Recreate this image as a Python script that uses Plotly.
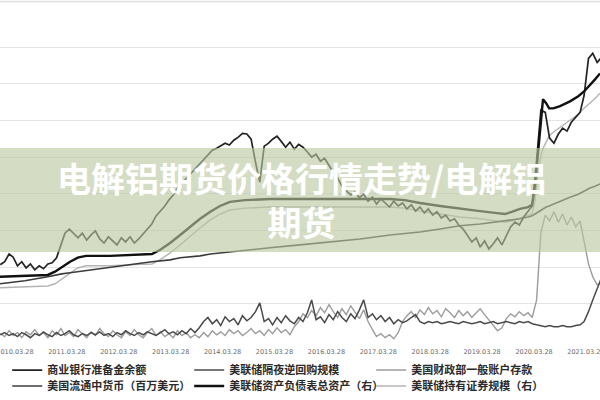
import pandas as pd
import plotly.graph_objects as go

# ---------------- data (in chart grid units 0-90) -------------
months = pd.date_range("2009-12-01", periods=140, freq="MS") + pd.Timedelta(days=14)

reserves = [20.7, 21.5, 23.6, 22.8, 20.4, 21.5, 19.8, 20.9, 19.3, 20.4, 19.6, 20.9, 21.2, 22.6, 26.1, 29.3,
            30.4, 29.1, 28.0, 29.3, 27.4, 28.8, 29.9, 27.7, 26.6, 28.3, 27.2, 26.1, 28.0, 26.9, 28.3, 26.6,
            27.7, 29.1, 30.2, 31.8, 34.0, 35.3, 36.7, 38.3, 39.7, 41.6, 42.9, 44.3, 45.7, 47.0, 48.1, 49.5,
            50.8, 51.9, 52.4, 53.0, 53.8, 53.3, 54.6, 55.4, 56.5, 56.3, 54.9, 48.6, 43.2, 53.0, 53.8, 54.9,
            55.7, 54.3, 52.7, 54.1, 52.2, 53.5, 52.7, 51.4, 50.0, 50.8, 48.9, 49.7, 47.6, 45.9, 44.3, 42.1,
            40.8, 39.7, 40.5, 38.9, 39.9, 38.0, 39.1, 37.2, 38.6, 37.5, 36.4, 38.0, 36.7, 37.5, 35.9, 37.0,
            35.3, 36.4, 34.8, 35.9, 34.2, 35.1, 33.4, 34.2, 32.6, 33.2, 31.5, 30.4, 28.5, 26.9, 28.0, 25.5,
            27.2, 25.0, 26.4, 28.0, 26.1, 28.8, 31.0, 32.3, 31.5, 33.7, 35.3, 36.7, 49.2, 62.8, 62.2, 55.2,
            53.8, 56.3, 57.9, 57.1, 59.5, 60.9, 62.2, 66.8, 76.9, 78.3, 75.8, 77.2]

rrp = [1.6, 2.2, 1.4, 1.9, 1.1, 2.2, 1.6, 0.8, 1.9, 1.4, 2.4, 1.6, 1.1, 2.2, 1.4, 1.9,
       2.7, 1.6, 1.1, 1.9, 1.4, 2.2, 1.6, 2.4, 1.4, 1.9, 1.1, 2.2, 1.6, 2.7, 1.9, 1.4,
       2.2, 1.6, 2.4, 1.9, 1.4, 2.2, 3.0, 1.9, 2.4, 1.6, 2.7, 1.9, 3.3, 2.2, 3.5, 5.2,
       6.3, 4.6, 5.7, 4.1, 6.5, 5.2, 6.0, 4.3, 6.8, 5.4, 6.3, 7.9, 10.3, 5.2, 6.0, 4.3,
       6.3, 4.9, 6.8, 5.4, 4.6, 6.3, 5.2, 7.6, 11.1, 5.7, 6.5, 4.9, 7.1, 5.7, 7.9, 6.3,
       5.2, 7.3, 6.0, 8.4, 11.1, 6.3, 7.3, 5.7, 6.8, 5.2, 6.3, 4.6, 5.7, 4.9, 5.4, 6.3,
       7.1, 5.2, 4.6, 5.2, 4.9, 5.2, 4.6, 4.9, 5.2, 4.9, 4.6, 5.2, 4.9, 4.6, 4.9, 5.2,
       4.6, 4.9, 5.2, 4.6, 4.9, 5.2, 4.9, 4.6, 5.2, 4.9, 5.2, 4.6, 4.3, 4.1, 3.8, 4.1,
       3.8, 3.8, 4.1, 3.8, 3.8, 4.1, 4.3, 5.2, 7.9, 11.1, 14.4, 17.1]

tga = [1.9, 1.1, 2.7, 1.4, 2.2, 0.8, 2.4, 1.6, 3.0, 1.4, 2.2, 0.8, 2.7, 1.6, 3.3, 1.4,
       2.2, 1.1, 3.0, 1.9, 0.8, 2.4, 1.4, 3.3, 1.9, 1.1, 2.7, 1.6, 0.8, 2.4, 1.4, 3.0,
       1.6, 0.8, 2.2, 3.3, 1.4, 2.4, 1.1, 1.9, 0.8, 2.7, 1.4, 2.2, 0.8, 1.6, 0.8, 2.2,
       1.1, 2.7, 1.6, 2.4, 1.4, 3.0, 1.9, 2.7, 1.4, 2.2, 3.3, 1.9, 2.7, 1.4, 3.0, 1.9,
       3.5, 2.2, 3.0, 1.6, 3.8, 5.2, 7.3, 6.3, 8.2, 6.8, 9.0, 7.6, 9.8, 7.9, 6.3, 8.7,
       7.1, 9.5, 7.6, 6.0, 8.4, 5.2, 3.0, 1.1, 1.9, 0.8, 1.6, 0.5, 2.2, 5.2, 6.8, 7.9,
       6.3, 8.4, 7.1, 9.0, 7.3, 8.2, 6.5, 8.7, 7.6, 6.3, 8.2, 6.8, 7.9, 6.3, 7.6, 8.7,
       7.1, 5.7, 4.1, 2.7, 3.5, 6.0, 7.3, 6.5, 7.9, 6.8, 7.6, 6.3, 11.1, 29.6, 34.2, 32.6,
       35.1, 32.3, 34.5, 31.5, 33.7, 31.0, 32.6, 26.6, 20.9, 17.4, 15.2, 15.8]

smooth_dates = ["2009-12-13", "2010-06-06", "2010-11-14", "2011-01-04", "2011-02-20", "2011-04-20",
                "2011-06-13", "2011-08-10", "2012-01-26", "2012-07-19", "2012-11-16", "2013-01-11",
                "2013-03-24", "2013-06-03", "2013-08-12", "2013-10-21", "2014-01-01", "2014-03-10",
                "2014-05-19", "2014-09-02", "2015-02-25", "2015-09-23", "2016-04-21", "2016-11-20",
                "2017-06-18", "2017-10-01", "2018-01-15", "2018-06-06", "2018-10-24", "2019-03-14",
                "2019-06-27", "2019-09-05", "2019-10-23", "2019-12-20", "2020-02-14", "2020-03-14",
                "2020-04-04", "2020-04-26", "2020-05-16", "2020-05-30", "2020-06-21", "2020-07-12",
                "2020-08-10", "2020-09-27", "2020-12-06", "2021-02-02", "2021-03-15", "2021-04-26",
                "2021-05-31", "2021-07-05"]

total_assets = [17.4, 17.7, 17.9, 18.8, 20.1, 21.5, 22.6, 23.1, 23.1, 23.4, 23.6, 24.7, 26.6, 28.8, 31.0,
                33.2, 35.1, 36.7, 37.8, 38.3, 38.6, 38.6, 38.6, 38.6, 38.6, 38.3, 37.5, 36.7, 35.9, 35.3,
                34.8, 34.5, 35.1, 35.9, 36.4, 37.0, 42.4, 51.9, 61.4, 65.8, 64.7, 63.3, 63.3, 63.9, 65.2,
                66.6, 67.9, 69.6, 71.2, 72.8]

securities = [14.4, 14.7, 14.9, 15.5, 16.8, 18.5, 19.8, 20.4, 20.4, 20.7, 20.9, 22.0, 23.9, 26.1, 28.5,
              30.7, 32.9, 34.5, 35.6, 36.1, 36.4, 36.4, 36.4, 36.4, 36.4, 36.1, 35.3, 34.5, 33.7, 33.2,
              32.6, 32.3, 32.6, 33.4, 34.0, 34.5, 38.3, 45.9, 50.5, 52.4, 54.1, 55.7, 56.8, 58.2, 60.1,
              61.7, 63.3, 64.7, 66.0, 67.4]

currency = [15.5, 16.3, 17.4, 17.9, 18.2, 18.5, 18.8, 19.0, 20.1, 20.9, 21.5, 21.7, 22.0, 22.6, 22.8,
            23.1, 23.6, 23.9, 24.2, 24.7, 25.3, 26.1, 26.9, 27.7, 28.8, 29.1, 29.6, 30.4, 31.3, 31.8,
            32.3, 32.6, 32.9, 33.2, 33.7, 34.0, 34.5, 35.1, 35.6, 35.9, 36.4, 36.7, 37.2, 38.0, 39.1,
            39.9, 40.8, 41.6, 42.1, 42.7]

tick_dates = [f"{y}-03-28" for y in range(2010, 2022)]
tick_labels = [f"{y}.03.28" for y in range(2010, 2022)]

names = ["商业银行准备金余额", "美联储隔夜逆回购规模", "美国财政部一般账户存款",
         "美国流通中货币（百万美元）", "美联储资产负债表总资产（右）", "美联储持有证券规模（右）"]

banner_text = "电解铝期货价格行情走势/电解铝<br>期货"

# ---------------- figure ----------------
fig = go.Figure()

def add(x, y, name, color, width, legend, rank):
    fig.add_trace(go.Scatter(x=x, y=y, name=name, mode="lines",
                             line=dict(color=color, width=width),
                             legend=legend, legendrank=rank, hoverinfo="skip"))

add(months, tga, names[2], "#9c9c9c", 1.4, "legend", 3)
add(smooth_dates, securities, names[5], "#b4b4b4", 1.4, "legend2", 6)
add(months, rrp, names[1], "#4a4a4a", 1.5, "legend", 2)
add(smooth_dates, currency, names[3], "#3c3c3c", 1.6, "legend2", 4)
add(months, reserves, names[0], "#232323", 1.7, "legend", 1)
add(smooth_dates, total_assets, names[4], "#111111", 2.4, "legend2", 5)

legend_font = dict(family="Noto Sans CJK SC", size=11, color="#2a2a2a", weight="bold")
fig.update_layout(
    width=600, height=400,
    margin=dict(l=0, r=0, t=10, b=59, autoexpand=False),
    paper_bgcolor="white", plot_bgcolor="white",
    xaxis=dict(range=["2009-12-13", "2021-07-05"], tickvals=tick_dates, ticktext=tick_labels,
               tickfont=dict(family="DejaVu Sans", size=6.5, color="#6a6a6a"),
               ticklabeloverflow="allow",
               showgrid=False, zeroline=False, showline=False, automargin=False,
               ticks="outside", ticklen=4, tickcolor="rgba(0,0,0,0)"),
    yaxis=dict(range=[-0.1, 90.1], dtick=10, tick0=0, showticklabels=False, automargin=False,
               gridcolor="#e4e4e4", gridwidth=1.3, zeroline=False, showline=False),
    legend=dict(orientation="h", x=0.012, xanchor="left", y=-0.044, yanchor="top",
                entrywidth=137, entrywidthmode="pixels", font=legend_font,
                bgcolor="rgba(0,0,0,0)", traceorder="normal"),
    legend2=dict(orientation="h", x=0.012, xanchor="left", y=-0.092, yanchor="top",
                 entrywidth=137, entrywidthmode="pixels", font=legend_font,
                 bgcolor="rgba(0,0,0,0)", traceorder="normal"),
    showlegend=True,
)

# faint border line at top of picture
fig.add_shape(type="line", xref="paper", yref="paper", x0=0, x1=1, y0=1.026, y1=1.026,
              line=dict(color="#dedede", width=1.5))

# translucent banner
fig.add_shape(type="rect", xref="paper", yref="paper", x0=-0.01, x1=1.01, y0=0.269, y1=0.583,
              fillcolor="rgba(186,200,160,0.62)", line=dict(width=0), layer="above")

fig.add_annotation(text=banner_text, xref="paper", yref="paper", x=0.503, y=0.426,
                   xanchor="center", yanchor="middle", align="center", showarrow=False,
                   font=dict(family="Noto Sans CJK SC", size=34, color="white", weight="bold"))

fig.write_html("out.html", config={"displayModeBar": False},
               post_script="document.body.style.margin='0';document.body.style.overflow='hidden';")
